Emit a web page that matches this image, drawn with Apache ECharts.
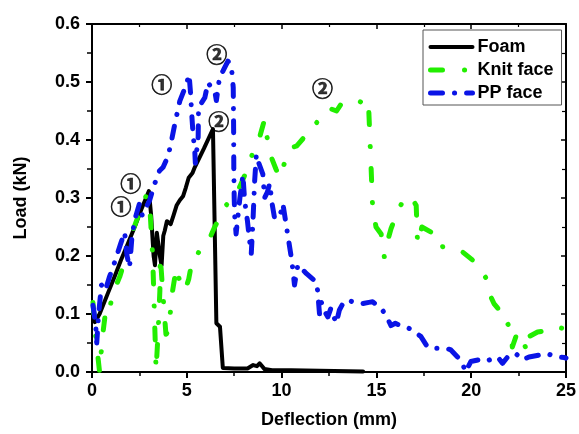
<!DOCTYPE html>
<html>
<head>
<meta charset="utf-8">
<script src="https://cdn.jsdelivr.net/npm/echarts@6/dist/echarts.min.js"></script>
<style>
html,body{margin:0;padding:0;background:#fff;}
#chart{width:579px;height:434px;}
</style>
</head>
<body>
<div id="chart"></div>
<script>
// ---- data ----
const seriesNames = ["Foam", "Knit face", "PP face"];

const foamX = [0.05,0.15,0.4,0.84,1.2,1.53,1.9,2.25,2.6,2.85,3.0,3.12,3.25,3.32,3.42,3.5,3.58,3.67,3.76,3.84,3.95,4.02,4.15,4.3,4.46,4.63,4.8,4.95,5.1,5.3,5.42,5.9,6.38,6.56,6.75,6.9,7.5,8.2,8.5,8.7,8.84,9.1,9.5,10.5,12,14.3];
const foamY = [0.1,0.086,0.1,0.136,0.165,0.193,0.222,0.25,0.28,0.3,0.312,0.27,0.2,0.184,0.24,0.238,0.2,0.184,0.235,0.244,0.26,0.262,0.255,0.27,0.287,0.296,0.303,0.318,0.335,0.343,0.353,0.385,0.419,0.084,0.078,0.007,0.006,0.006,0.012,0.01,0.015,0.005,0.003,0.003,0.002,0.001];

const knitX = [0.05,0.2,0.4,0.55,0.7,0.84,1.1,1.46,1.9,2.16,2.6,2.86,3.04,3.2,3.38,3.49,3.58,3.6,3.75,3.9,4.05,4.2,4.45,4.6,4.9,5.1,5.33,5.6,5.86,6.2,6.47,6.8,7.09,7.6,7.8,8.2,8.5,8.8,9.1,9.3,9.46,9.7,9.9,10.15,10.4,10.8,11.2,11.5,11.8,12.1,12.5,12.9,13.14,13.58,13.93,14.2,14.35,14.6,14.72,14.8,14.98,15.25,15.42,15.6,15.77,16.2,16.4,16.8,17.1,17.17,17.4,18.05,18.3,18.84,19.54,20.3,20.86,20.95,21.2,21.4,21.56,21.74,22.1,22.17,22.44,22.6,22.96,23.05,23.5,24.1,24.3,24.9,25];
const knitY = [0.12,0.06,0.0,0.06,0.1,0.095,0.136,0.164,0.21,0.244,0.284,0.304,0.29,0.2,0.003,0.07,0.14,0.2,0.13,0.065,0.07,0.13,0.18,0.16,0.14,0.16,0.2,0.205,0.22,0.23,0.25,0.27,0.288,0.307,0.32,0.35,0.38,0.4,0.435,0.39,0.37,0.35,0.335,0.36,0.385,0.39,0.405,0.41,0.428,0.44,0.455,0.45,0.462,0.465,0.47,0.465,0.473,0.45,0.353,0.284,0.25,0.238,0.198,0.227,0.247,0.284,0.293,0.304,0.287,0.221,0.25,0.238,0.215,0.218,0.207,0.187,0.158,0.136,0.118,0.11,0.112,0.095,0.072,0.043,0.069,0.064,0.035,0.061,0.069,0.072,0.078,0.075,0.069];

const ppX = [0.05,0.12,0.22,0.25,0.35,0.5,0.7,0.93,1.1,1.28,1.5,1.72,1.85,1.98,2.1,2.25,2.5,2.65,2.77,3.04,3.3,3.56,3.75,4.02,4.2,4.37,4.63,4.98,5.12,5.2,5.25,5.33,5.42,5.45,5.6,5.62,5.95,6.12,6.3,6.47,6.56,6.74,6.91,7.17,7.35,7.45,7.47,7.48,7.5,7.53,7.6,7.8,7.96,8.05,8.2,8.3,8.4,8.49,8.58,8.67,8.8,9.01,9.1,9.25,9.37,9.5,9.63,9.9,10.07,10.16,10.33,10.5,10.6,10.68,10.86,11.0,11.3,11.4,11.83,11.9,12.0,12.1,12.26,12.44,12.6,12.88,13.05,13.3,13.5,13.93,14.28,14.6,14.8,15.25,15.5,15.77,16.0,16.2,16.56,16.9,17.35,17.7,18.14,18.67,18.93,19.28,19.54,19.7,19.98,20.4,20.77,21.1,21.4,21.65,22.0,22.35,22.7,23.05,23.58,24.0,24.46,24.9,25.0];
const ppY = [0.115,0.1,0.07,0.05,0.1,0.15,0.14,0.165,0.18,0.198,0.22,0.241,0.2,0.18,0.23,0.262,0.29,0.27,0.278,0.296,0.324,0.347,0.353,0.373,0.4,0.428,0.467,0.496,0.513,0.48,0.45,0.41,0.382,0.36,0.405,0.456,0.473,0.499,0.49,0.485,0.468,0.511,0.519,0.536,0.528,0.49,0.42,0.35,0.3,0.267,0.238,0.3,0.34,0.296,0.26,0.23,0.204,0.26,0.33,0.375,0.36,0.341,0.3,0.31,0.325,0.29,0.265,0.267,0.29,0.29,0.235,0.2,0.175,0.15,0.185,0.18,0.17,0.17,0.155,0.14,0.1,0.12,0.105,0.095,0.11,0.084,0.107,0.122,0.124,0.119,0.118,0.12,0.121,0.11,0.098,0.08,0.084,0.081,0.078,0.072,0.061,0.043,0.041,0.041,0.038,0.026,0.015,0.0,0.018,0.021,0.018,0.023,0.026,0.015,0.029,0.032,0.021,0.026,0.029,0.032,0.026,0.025,0.024];

// annotation labels (circled numbers) at data coordinates
const noteText = ["①","①","①","②","②","②"];
const noteX = [1.53, 2.05, 3.68, 6.58, 6.68, 12.16];
const noteY = [0.287, 0.325, 0.497, 0.548, 0.433, 0.49];

const xTicks = [0, 5, 10, 15, 20, 25];
const yTicks = [0.0, 0.1, 0.2, 0.3, 0.4, 0.5, 0.6];

// ---- chart ----
const zip = (a, b) => a.map((v, i) => [v, b[i]]);
const FONT = "'Liberation Sans', Arial, sans-serif";
const chart = echarts.init(document.getElementById('chart'), null, {renderer: 'canvas'});

const axisLineStyle = {show: true, onZero: false, lineStyle: {color: '#000', width: 2}};
const hiddenSymbol = {color: 'rgba(0,0,0,0)', borderColor: 'rgba(0,0,0,0)', borderWidth: 0, opacity: 0};

const styles = [
  {color: '#000', width: 4, type: 'solid'},
  {color: '#22ee00', width: 5, type: [12, 22, 0.1, 22]},
  {color: '#0a14e6', width: 5, type: [12, 12, 0.1, 12]}
];

chart.setOption({
  animation: false,
  backgroundColor: '#fff',
  grid: {left: 92, right: 12, top: 24, bottom: 62, containLabel: false},
  legend: {
    orient: 'vertical',
    left: 423, top: 30,
    data: seriesNames.map((n, i) => ({
      name: n,
      itemStyle: hiddenSymbol,
      lineStyle: {color: styles[i].color, width: styles[i].width, type: styles[i].type, cap: 'round'}
    })),
    itemWidth: 42, itemHeight: 14, itemGap: 5,
    padding: [8, 8, 3, 5],
    borderColor: '#555', borderWidth: 1, backgroundColor: '#fff',
    itemStyle: hiddenSymbol,
    textStyle: {fontFamily: FONT, fontWeight: 'bold', fontSize: 18, color: '#000'}
  },
  xAxis: [
    {
      type: 'value', min: xTicks[0], max: xTicks[xTicks.length - 1], interval: 5,
      position: 'bottom', axisLine: axisLineStyle, splitLine: {show: false},
      name: 'Deflection (mm)', nameLocation: 'middle', nameGap: 39,
      nameTextStyle: {fontFamily: FONT, fontWeight: 'bold', fontSize: 18, color: '#000'},
      axisTick: {show: true, inside: false, length: 6, lineStyle: {color: '#000', width: 2}},
      minorTick: {show: true, splitNumber: 2, length: 4, lineStyle: {color: '#000', width: 1.5}},
      axisLabel: {margin: 10, fontFamily: FONT, fontWeight: 'bold', fontSize: 18, color: '#000'}
    },
    {
      type: 'value', min: xTicks[0], max: xTicks[xTicks.length - 1], interval: 5,
      position: 'top', axisLine: axisLineStyle, splitLine: {show: false},
      axisTick: {show: true, inside: true, length: 5, lineStyle: {color: '#000', width: 1.5}},
      minorTick: {show: true, splitNumber: 2, length: 3, lineStyle: {color: '#000', width: 1.2}},
      axisLabel: {show: false}
    }
  ],
  yAxis: [
    {
      type: 'value', min: yTicks[0], max: yTicks[yTicks.length - 1], interval: 0.1,
      position: 'left', axisLine: axisLineStyle, splitLine: {show: false},
      name: 'Load (kN)', nameLocation: 'middle', nameGap: 62, nameRotate: 90,
      nameTextStyle: {fontFamily: FONT, fontWeight: 'bold', fontSize: 18, color: '#000'},
      axisTick: {show: true, inside: false, length: 6, lineStyle: {color: '#000', width: 2}},
      minorTick: {show: true, splitNumber: 2, length: 5, lineStyle: {color: '#000', width: 1.5}},
      axisLabel: {margin: 12, fontFamily: FONT, fontWeight: 'bold', fontSize: 18, color: '#000',
        formatter: v => v.toFixed(1)}
    },
    {
      type: 'value', min: yTicks[0], max: yTicks[yTicks.length - 1], interval: 0.1,
      position: 'right', axisLine: axisLineStyle, splitLine: {show: false},
      axisTick: {show: true, inside: true, length: 5, lineStyle: {color: '#000', width: 1.5}},
      minorTick: {show: true, splitNumber: 2, length: 4, lineStyle: {color: '#000', width: 1.2}},
      axisLabel: {show: false}
    }
  ],
  series: [
    {
      name: seriesNames[0], type: 'line', data: zip(foamX, foamY),
      showSymbol: false, symbol: 'none', color: styles[0].color,
      lineStyle: {color: styles[0].color, width: styles[0].width, cap: 'round', join: 'round'}
    },
    {
      name: seriesNames[1], type: 'line', data: zip(knitX, knitY),
      showSymbol: false, symbol: 'none', color: styles[1].color,
      lineStyle: {color: styles[1].color, width: styles[1].width, type: styles[1].type, cap: 'round', join: 'round'}
    },
    {
      name: seriesNames[2], type: 'line', data: zip(ppX, ppY),
      showSymbol: false, symbol: 'none', color: styles[2].color,
      lineStyle: {color: styles[2].color, width: styles[2].width, type: styles[2].type, cap: 'round', join: 'round'}
    },
    {
      name: 'notes', type: 'scatter', data: zip(noteX, noteY),
      symbolSize: 1, itemStyle: {color: 'rgba(0,0,0,0)'}, silent: true,
      label: {show: true, position: 'inside',
        formatter: p => noteText[p.dataIndex],
        fontFamily: "'Noto Sans CJK JP', 'DejaVu Sans', sans-serif", fontSize: 21, fontWeight: 'bold', color: '#000',
        textBorderColor: '#000', textBorderWidth: 0.7}
    }
  ]
});
</script>
</body>
</html>
